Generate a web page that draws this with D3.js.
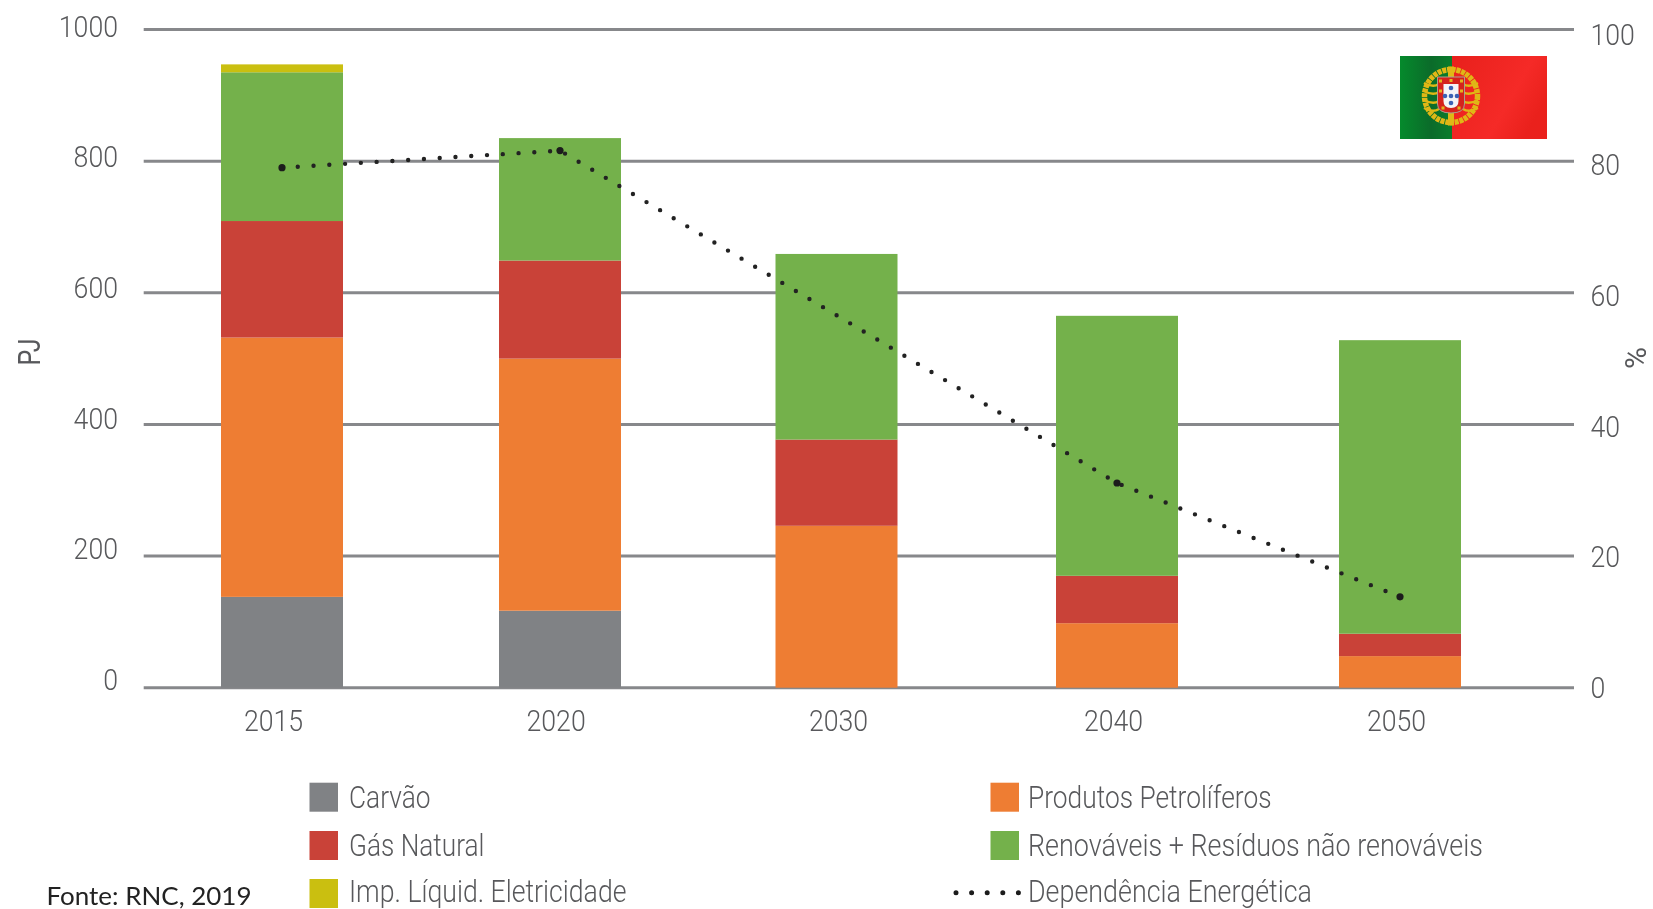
<!DOCTYPE html>
<html>
<head>
<meta charset="utf-8">
<script src="https://cdn.jsdelivr.net/npm/d3@7"></script>
<style>
    html, body { margin: 0; background: #fff; }
    svg { display: block; }
    text { font-family: Roboto, "Liberation Sans", sans-serif; font-weight: 300; fill: #58595b; }
</style>
</head>
<body>
<div id="chart"></div>
<script>
// Data
const years = ['2015', '2020', '2030', '2040', '2050'];
const carvao = [138, 117, 0, 0, 0];
const petroliferos = [394, 383, 246, 98, 48];
const gasNatural = [177, 149, 131, 72, 34];
const renovaveis = [226, 186, 282, 395, 446];
const eletricidade = [12, 0, 0, 0, 0];
const dependencia = [79, 81.6, 56.6, 31.1, 13.8];
const pjTicks = [0, 200, 400, 600, 800, 1000];
const pctTicks = [0, 20, 40, 60, 80, 100];
const seriesNames = ['Carvão', 'Produtos Petrolíferos', 'Gás Natural', 'Renováveis + Resíduos não renováveis', 'Imp. Líquid. Eletricidade'];
const seriesColors = ['#808285', '#ee7d33', '#c94238', '#74b14b', '#cabf10'];
const lineName = 'Dependência Energética';
const source = 'Fonte: RNC, 2019';

const width = 1653;
const height = 909;

const svg = d3.select('#chart')
    .append('svg')
    .attr('width', width)
    .attr('height', height);

const defs = svg.append('defs');
defs.append('filter').attr('id', 'soft')
    .append('feGaussianBlur').attr('stdDeviation', 0.45);

// Scales
const yScale = d3.scaleLinear().domain([0, 1000]).range([687.7, 29.5]);
const pctScale = d3.scaleLinear().domain([0, 100]).range([687.7, 29.5]);
// the tick labels in the picture sit a little off the gridlines and bars
const yLabelScale = d3.scaleLinear().domain([0, 1000]).range([680, 27]);
const pctLabelScale = d3.scaleLinear().domain([0, 100]).range([688, 35]);
const xAxisScale = d3.scaleOrdinal().domain(years).range([273, 555.6, 838, 1113, 1396]);
const barX = d3.scaleOrdinal().domain(years).range([282, 560, 836.5, 1117, 1400]);
const barWidth = 122;

// Gridlines
svg.append('g')
    .selectAll('line')
    .data(pjTicks)
    .join('line')
    .attr('x1', 143.7)
    .attr('x2', 1574)
    .attr('y1', d => yScale(d))
    .attr('y2', d => yScale(d))
    .attr('stroke', '#87888b')
    .attr('stroke-width', 3);

// Stacked bars
const rows = years.map((year, i) => ({
    year,
    0: carvao[i],
    1: petroliferos[i],
    2: gasNatural[i],
    3: renovaveis[i],
    4: eletricidade[i]
}));
const stacked = d3.stack().keys([0, 1, 2, 3, 4])(rows);

svg.append('g')
    .selectAll('g')
    .data(stacked)
    .join('g')
    .attr('fill', d => seriesColors[d.key])
    .selectAll('rect')
    .data(d => d)
    .join('rect')
    .attr('x', d => barX(d.data.year) - barWidth / 2)
    .attr('width', barWidth)
    .attr('y', d => yScale(d[1]))
    .attr('height', d => yScale(d[0]) - yScale(d[1]));

// Dependence line
const line = d3.line()
    .x((d, i) => barX(years[i]))
    .y(d => pctScale(d));

svg.append('path')
    .datum(dependencia)
    .attr('d', line)
    .attr('fill', 'none')
    .attr('stroke', '#222')
    .attr('stroke-width', 4.4)
    .attr('stroke-linecap', 'round')
    .attr('stroke-dasharray', '0 15.8');

// 2030 has no heavier marker in the picture
svg.append('g')
    .selectAll('circle')
    .data(dependencia.map((d, i) => ({ year: years[i], value: d })).filter(d => d.year !== '2030'))
    .join('circle')
    .attr('cx', d => barX(d.year))
    .attr('cy', d => pctScale(d.value))
    .attr('r', 3.6)
    .attr('fill', '#1c1c1c');

// Axes
const axisText = g => {
    g.select('.domain').remove();
    g.selectAll('.tick line').remove();
    g.selectAll('text')
        .attr('font-size', 29)
        .attr('textLength', function() { return this.textContent.length * 14.8; })
        .attr('lengthAdjust', 'spacingAndGlyphs')
        .style('font-family', 'Roboto, "Liberation Sans", sans-serif')
        .style('font-weight', 300);
};

const textLayer = svg.append('g').attr('filter', 'url(#soft)');

textLayer.append('g')
    .attr('transform', 'translate(118, 0)')
    .call(d3.axisLeft(yLabelScale).tickValues(pjTicks).tickSize(0).tickPadding(0).tickFormat(d3.format('d')))
    .call(axisText);

textLayer.append('g')
    .attr('transform', 'translate(1590.5, 0)')
    .call(d3.axisRight(pctLabelScale).tickValues(pctTicks).tickSize(0).tickPadding(0).tickFormat(d3.format('d')))
    .call(axisText);

textLayer.append('g')
    .attr('transform', 'translate(0, 710.5)')
    .call(d3.axisBottom(xAxisScale).tickSize(0).tickPadding(0))
    .call(axisText);

textLayer.append('text')
    .attr('transform', 'translate(40, 352) rotate(-90)')
    .attr('text-anchor', 'middle')
    .attr('font-size', 32)
    .attr('textLength', 27)
    .attr('lengthAdjust', 'spacingAndGlyphs')
    .style('font-weight', 400)
    .text('PJ');

textLayer.append('text')
    .attr('transform', 'translate(1646, 358) rotate(-90)')
    .attr('text-anchor', 'middle')
    .attr('font-size', 30)
    .style('font-weight', 400)
    .text('%');

// Legend
const legendItems = [
    { name: seriesNames[0], color: seriesColors[0], sx: 309.5, sy: 782.7, tx: 349, base: 807.7, len: 81.5 },
    { name: seriesNames[2], color: seriesColors[2], sx: 309.5, sy: 831, tx: 349, base: 856, len: 135.5 },
    { name: seriesNames[4], color: seriesColors[4], sx: 309.5, sy: 879, tx: 349, base: 901.5, len: 277.5 },
    { name: seriesNames[1], color: seriesColors[1], sx: 990.5, sy: 782.7, tx: 1028, base: 807.7, len: 243.5 },
    { name: seriesNames[3], color: seriesColors[3], sx: 990.5, sy: 831, tx: 1028, base: 856, len: 455 }
];

svg.append('g')
    .selectAll('rect')
    .data(legendItems)
    .join('rect')
    .attr('x', d => d.sx)
    .attr('width', 28.5)
    .attr('y', d => d.sy)
    .attr('height', 29)
    .attr('fill', d => d.color);

textLayer.append('g')
    .selectAll('text')
    .data(legendItems.concat([{ name: lineName, tx: 1028, base: 901.5, len: 284 }]))
    .join('text')
    .attr('x', d => d.tx)
    .attr('y', d => d.base)
    .attr('font-size', 31)
    .attr('textLength', d => d.len)
    .attr('lengthAdjust', 'spacingAndGlyphs')
    .text(d => d.name);

svg.append('line')
    .attr('x1', 956)
    .attr('x2', 1019)
    .attr('y1', 892.7)
    .attr('y2', 892.7)
    .attr('stroke', '#1c1c1c')
    .attr('stroke-width', 5)
    .attr('stroke-linecap', 'round')
    .attr('stroke-dasharray', '0 15.6');

textLayer.append('text')
    .attr('x', 46.5)
    .attr('y', 904.5)
    .attr('font-size', 25)
    .attr('textLength', 205)
    .attr('lengthAdjust', 'spacingAndGlyphs')
    .style('font-family', 'Lato, "Open Sans", sans-serif')
    .style('font-weight', 400)
    .style('fill', '#222')
    .text(source);

// Flag
const greenGrad = defs.append('linearGradient').attr('id', 'flagGreen');
greenGrad.append('stop').attr('offset', '0').attr('stop-color', '#058a2c');
greenGrad.append('stop').attr('offset', '0.6').attr('stop-color', '#0b6b2a');
greenGrad.append('stop').attr('offset', '1').attr('stop-color', '#0a7d2c');
const redGrad = defs.append('linearGradient').attr('id', 'flagRed').attr('x2', 1).attr('y2', 0.5);
redGrad.append('stop').attr('offset', '0').attr('stop-color', '#e8201c');
redGrad.append('stop').attr('offset', '0.7').attr('stop-color', '#f52a27');
redGrad.append('stop').attr('offset', '1').attr('stop-color', '#ea211c');

const flag = svg.append('g');
flag.append('rect').attr('x', 1400).attr('y', 56).attr('width', 52).attr('height', 83).attr('fill', 'url(#flagGreen)');
flag.append('rect').attr('x', 1452).attr('y', 56).attr('width', 95).attr('height', 83).attr('fill', 'url(#flagRed)');

const emblem = flag.append('g').attr('transform', 'translate(1451, 96)').attr('filter', 'url(#soft)');
emblem.append('circle').attr('r', 26.5).attr('fill', 'none').attr('stroke', '#e0b714').attr('stroke-width', 5.5).attr('stroke-dasharray', '4 0.8');
emblem.append('rect').attr('x', -3).attr('y', -29.5).attr('width', 6).attr('height', 59).attr('fill', '#e0b714');
[-13, -5, 4, 12].forEach(dy => {
    emblem.append('path')
        .attr('d', `M-27 ${dy}Q-18 ${dy + 5} -12 ${dy + 1}M27 ${dy}Q18 ${dy + 5} 12 ${dy + 1}`)
        .attr('fill', 'none')
        .attr('stroke', '#e0b714')
        .attr('stroke-width', 2.4);
});
emblem.append('path')
    .attr('d', 'M-13.5 -19H13.5V8Q13.5 17 0 17Q-13.5 17 -13.5 8Z')
    .attr('fill', '#d5241f')
    .attr('stroke', '#a9a08f')
    .attr('stroke-width', 1);
emblem.append('path')
    .attr('d', 'M-7.5 -12H7.5V5Q7.5 12 0 12Q-7.5 12 -7.5 5Z')
    .attr('fill', '#f4f4f6');
emblem.selectAll('.quina')
    .data([[0, -8], [-6, 0], [0, 0], [6, 0], [0, 7]])
    .join('circle')
    .attr('cx', d => d[0])
    .attr('cy', d => d[1])
    .attr('r', 2.3)
    .attr('fill', '#3a62b4');
emblem.selectAll('.castelo')
    .data([[-10.5, -15], [0, -15.5], [10.5, -15], [-10.5, -5], [10.5, -5], [-8, 12], [8, 12]])
    .join('rect')
    .attr('x', d => d[0] - 1.5)
    .attr('y', d => d[1] - 1.5)
    .attr('width', 3)
    .attr('height', 3)
    .attr('fill', '#e3b51a');
</script>
</body>
</html>
